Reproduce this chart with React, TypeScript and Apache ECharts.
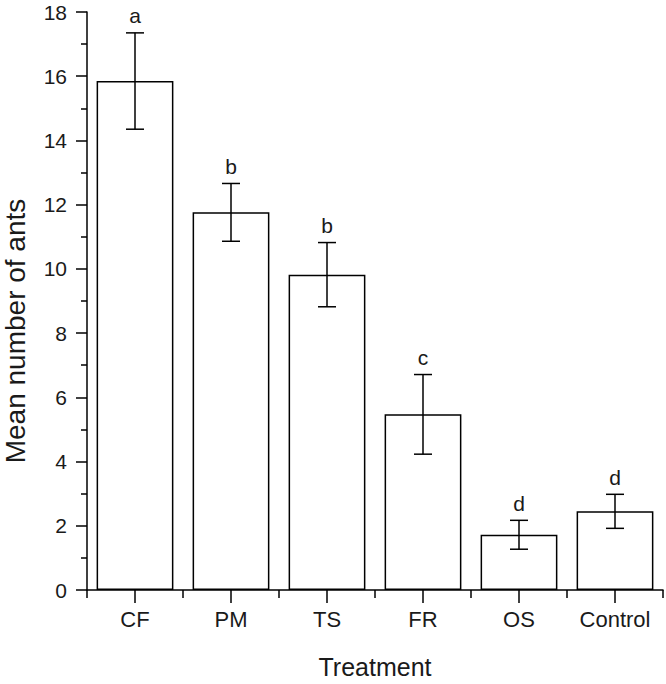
import React, { useEffect, useRef } from "react";
import * as echarts from "echarts";

const categories = ["CF", "PM", "TS", "FR", "OS", "Control"];
const means = [15.85, 11.76, 9.82, 5.47, 1.72, 2.45];
const errors = [1.5, 0.9, 1.0, 1.24, 0.45, 0.53];
const letters = ["a", "b", "b", "c", "d", "d"];
const yTicks = [0, 2, 4, 6, 8, 10, 12, 14, 16, 18];
const yName = "Mean number of ants";
const xName = "Treatment";

const FONT = "Liberation Sans, Arial, sans-serif";

export default function App() {
  const ref = useRef<HTMLDivElement>(null);
  useEffect(() => {
    if (!ref.current) return;
    const chart = echarts.init(ref.current, undefined, { renderer: "svg" });
    const errData = categories.map((_, i) => [i, means[i] - errors[i], means[i] + errors[i], i]);
    chart.setOption({
      animation: false,
      backgroundColor: "#ffffff",
      grid: { left: 87, right: 3, top: 12, bottom: 94, containLabel: false, outerBoundsMode: "none" },
      graphic: [
        {
          type: "text",
          x: 15,
          y: 331,
          rotation: Math.PI / 2,
          style: {
            text: yName,
            fontFamily: FONT,
            fontSize: 28,
            fill: "#1a1a1a",
            align: "center",
            verticalAlign: "middle",
          },
        },
      ],
      xAxis: [
        {
          type: "category",
          data: categories,
          name: xName,
          nameLocation: "middle",
          nameGap: 64,
          nameTextStyle: { fontFamily: FONT, fontSize: 25, color: "#1a1a1a" },
          axisLine: { show: true, lineStyle: { color: "#000", width: 1.5 } },
          axisTick: { show: true, alignWithLabel: true, length: 13, inside: false, lineStyle: { color: "#000", width: 1.5 } },
          axisLabel: { fontFamily: FONT, fontSize: 22, color: "#1a1a1a", margin: 18 },
          splitLine: { show: false },
        },
        {
          type: "category",
          data: categories,
          position: "bottom",
          axisLine: { show: false },
          axisTick: { show: true, alignWithLabel: false, length: 8, lineStyle: { color: "#000", width: 1.5 } },
          axisLabel: { show: false },
          splitLine: { show: false },
        },
      ],
      yAxis: {
        type: "value",
        min: yTicks[0],
        max: yTicks[yTicks.length - 1],
        interval: 2,
        axisLine: { show: true, lineStyle: { color: "#000", width: 1.5 } },
        axisTick: { show: true, length: 11, lineStyle: { color: "#000", width: 1.5 } },
        minorTick: { show: true, splitNumber: 2, length: 6, lineStyle: { color: "#000", width: 1.5 } },
        axisLabel: { fontFamily: FONT, fontSize: 21, color: "#1a1a1a", margin: 20 },
        splitLine: { show: false },
      },
      series: [
        {
          type: "bar",
          data: means,
          barWidth: "80%",
          itemStyle: { color: "#ffffff", borderColor: "#000", borderWidth: 1.5 },
          z: 2,
        },
        {
          type: "custom",
          data: errData,
          z: 5,
          renderItem: (params: any, api: any) => {
            const x = api.value(0);
            const lo = api.coord([x, api.value(1)]);
            const hi = api.coord([x, api.value(2)]);
            const idx = api.value(3);
            const cap = 9;
            const style = { stroke: "#000", lineWidth: 1.5 };
            return {
              type: "group",
              children: [
                { type: "line", shape: { x1: hi[0], y1: hi[1], x2: lo[0], y2: lo[1] }, style },
                { type: "line", shape: { x1: hi[0] - cap, y1: hi[1], x2: hi[0] + cap, y2: hi[1] }, style },
                { type: "line", shape: { x1: lo[0] - cap, y1: lo[1], x2: lo[0] + cap, y2: lo[1] }, style },
                {
                  type: "text",
                  x: hi[0],
                  y: hi[1] - 17,
                  style: {
                    text: letters[idx],
                    fontFamily: FONT,
                    fontSize: 21,
                    fill: "#1a1a1a",
                    align: "center",
                    verticalAlign: "middle",
                  },
                },
              ],
            };
          },
        },
      ],
    });
    return () => chart.dispose();
  }, []);
  return <div ref={ref} style={{ position: "absolute", left: 0, top: 0, width: 666, height: 684 }} />;
}
